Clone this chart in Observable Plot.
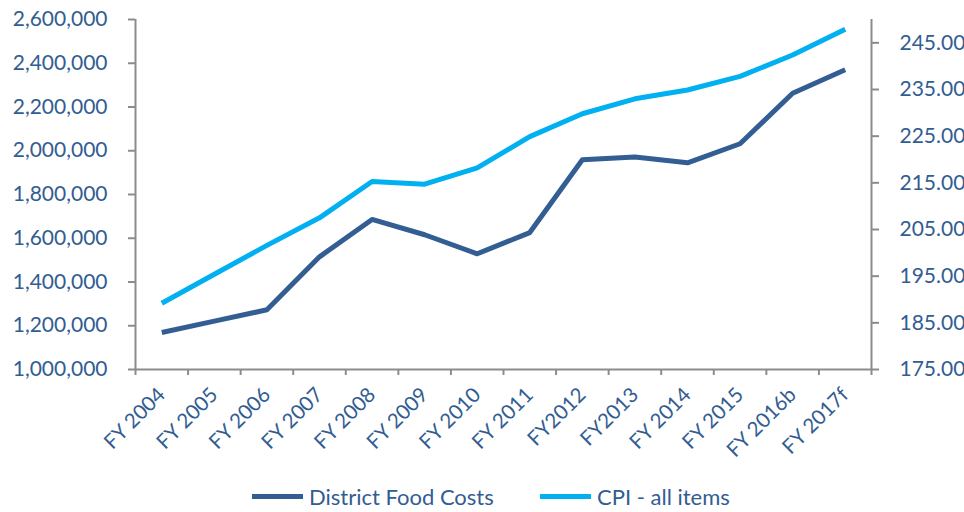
<!DOCTYPE html>
<html>
<head>
<meta charset="utf-8">
<script src="https://cdn.jsdelivr.net/npm/d3@7"></script>
<script src="https://cdn.jsdelivr.net/npm/@observablehq/plot@0.6"></script>
<style>
  body { margin: 0; background: #fff; }
  #wrap { width: 964px; height: 512px; position: relative; font-family: Lato, "Open Sans", sans-serif; }
  #legend { position: absolute; left: 0; top: 475px; width: 964px; height: 37px; }
  .item { position: absolute; top: 0; height: 42px; display: flex; align-items: center; font-size: 22px; color: #325D92; }
  .sw { width: 51px; height: 5px; margin-right: 6px; }
</style>
</head>
<body>
<div id="wrap">
  <div id="chart"></div>
  <div id="legend"></div>
</div>
<script>
const categories = ["FY 2004","FY 2005","FY 2006","FY 2007","FY 2008","FY 2009","FY 2010","FY 2011","FY2012","FY2013","FY 2014","FY 2015","FY 2016b","FY 2017f"];
const foodCosts = [1169000,1221000,1273000,1515000,1686000,1616000,1529000,1626000,1959000,1971000,1945000,2032000,2263000,2370000];
const cpi = [189.2,195.4,201.6,207.5,215.3,214.7,218.2,224.9,229.8,233.0,234.9,237.8,242.4,247.9];
const leftTicks = [1000000,1200000,1400000,1600000,1800000,2000000,2200000,2400000,2600000];
const rightTicks = [175,185,195,205,215,225,235,245];
const seriesNames = ["District Food Costs","CPI - all items"];
const seriesColors = ["#335E93","#00B0F0"];

const textColor = "#325D92";
const gray = "#8C8C8C";

// Right axis maps [175, 250] onto left axis [1,000,000, 2,600,000]
const toLeft = c => 1e6 + (c - 175) * 1.6e6 / 75;
const fromLeft = v => 175 + (v - 1e6) * 75 / 1.6e6;

const food = categories.map((c, i) => ({i, v: foodCosts[i]}));
const cpiData = categories.map((c, i) => ({i, v: toLeft(cpi[i])}));

const chart = Plot.plot({
  width: 964,
  height: 470,
  marginLeft: 135,
  marginRight: 93,
  marginTop: 19,
  marginBottom: 101,
  style: {fontFamily: "Lato, 'Open Sans', sans-serif", fontSize: "20px", color: textColor, background: "white", overflow: "visible"},
  x: {domain: [-0.5, categories.length - 0.5], axis: null},
  y: {domain: [1000000, 2600000], axis: null},
  marks: [
    Plot.ruleY([1000000], {stroke: gray, strokeWidth: 2}),
    Plot.ruleX([-0.5, categories.length - 0.5], {stroke: gray, strokeWidth: 2}),
    Plot.axisY({anchor: "left", ticks: leftTicks, tickSize: 7, tickPadding: 21, stroke: gray, strokeWidth: 2, tickFormat: d3.format(","), label: null, fontSize: 21, fill: textColor}),
    Plot.axisY({anchor: "right", ticks: rightTicks.map(toLeft), tickSize: 7, tickPadding: 21, stroke: gray, strokeWidth: 2, tickFormat: v => Math.round(fromLeft(v)).toFixed(2), label: null, fontSize: 21, fill: textColor}),
    Plot.axisX({ticks: d3.range(-0.5, categories.length, 1), tickSize: 6, stroke: gray, strokeWidth: 2, tickFormat: () => "", label: null}),
    Plot.axisX({ticks: d3.range(categories.length), tickSize: 0, tickPadding: 22, tickRotate: -45, tickFormat: i => categories[i], label: null, fontSize: 20.5, fill: textColor}),
    Plot.line(food, {x: "i", y: "v", stroke: seriesColors[0], strokeWidth: 5, strokeLinecap: "butt", strokeLinejoin: "round"}),
    Plot.line(cpiData, {x: "i", y: "v", stroke: seriesColors[1], strokeWidth: 5, strokeLinecap: "butt", strokeLinejoin: "round"})
  ]
});
document.getElementById("chart").append(chart);

const legend = document.getElementById("legend");
const lefts = [252, 540];
seriesNames.forEach((name, k) => {
  const it = document.createElement("div");
  it.className = "item";
  it.style.left = lefts[k] + "px";
  const sw = document.createElement("div");
  sw.className = "sw";
  sw.style.background = seriesColors[k];
  const tx = document.createElement("span");
  tx.textContent = name;
  it.append(sw, tx);
  legend.append(it);
});
</script>
</body>
</html>
